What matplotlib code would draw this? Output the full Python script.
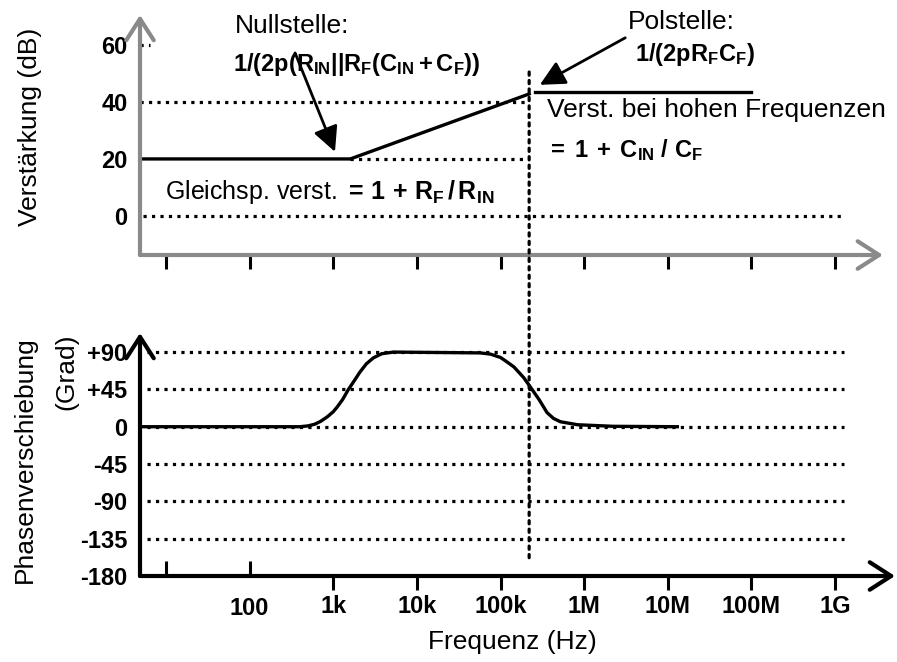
import matplotlib.pyplot as plt
from matplotlib.patches import ConnectionPatch

plt.rcParams['font.family'] = ['Liberation Sans', 'DejaVu Sans']
plt.rcParams['mathtext.fontset'] = 'custom'
plt.rcParams['mathtext.rm'] = 'Liberation Sans'
plt.rcParams['mathtext.bf'] = 'Liberation Sans:bold'
plt.rcParams['mathtext.it'] = 'Liberation Sans:italic'

# frequency axis (Hz)
f_min, f_max = 4.9, 5.2e9
decade_ticks = [1e3, 1e4, 1e5, 1e6, 1e7, 1e8, 1e9]
decade_labels = ['1k', '10k', '100k', '1M', '10M', '100M', '1G']
low_ticks = [1e1, 1e2]
low_labels = ['', '100']

# gain (dB), asymptotic
zero_freq = 1.6e3
pole_freq = 2.2e5
gain_freq = [4.9, 1.6e3, 2.2e5]
gain_db = [20, 20, 42.8]
hf_freq = [2.6e5, 1.0e8]
hf_db = [43.5, 43.5]
gain_ticks = [0, 20, 40, 60]

# phase (degrees)
phase_freq = [4.9, 400, 500, 600, 708, 851, 1000, 1120, 1300, 1510, 1800,
              2090, 2500, 3020, 3800, 5250,
              57500, 76000, 1.0e5, 1.2e5, 1.45e5, 1.9e5, 2.4e5, 2.9e5,
              3.6e5, 4.3e5, 5.2e5, 8.3e5, 2.2e6, 1.3e7]
phase_deg = [0, 0, 1, 3, 6.5, 12, 18, 24, 33, 44.5, 56,
             66, 76, 83, 88, 90,
             89, 87.5, 83.5, 78, 72, 59, 44.5, 32.5,
             17, 10, 6, 2.4, 0.5, 0]
phase_ticks = [90, 45, 0, -45, -90, -135, -180]
phase_labels = ['+90', '+45', '0', '-45', '-90', '-135', '-180']

W, H = 897, 662
fig = plt.figure(figsize=(W / 100, H / 100), dpi=100)
ax1 = fig.add_axes([140 / W, 1 - 255 / H, 755 / W, 240 / H])
ax2 = fig.add_axes([140 / W, 1 - 576 / H, 755 / W, 243 / H])

dot = dict(color='black', linestyle=':', linewidth=2.3, zorder=1)
gray = '#8a8a8a'

for ax in (ax1, ax2):
    ax.set_xscale('log')
    ax.set_xlim(f_min, f_max)
    for s in ax.spines.values():
        s.set_visible(False)
    ax.minorticks_off()

# ---- gain panel ----
ax1.set_ylim(-13.7, 70.5)
ax1.plot([f_min, 6.5], [60, 60], **dot)
ax1.plot([f_min, pole_freq], [40, 40], **dot)
ax1.plot([zero_freq, pole_freq], [20, 20], **dot)
ax1.plot([5.3, 1.23e9], [0, 0], **dot)
ax1.plot(gain_freq, gain_db, color='black', lw=2.4, zorder=3)
ax1.plot(hf_freq, hf_db, color='black', lw=2.4, zorder=3)

ax1.set_xticks(low_ticks + decade_ticks)
ax1.set_xticklabels([])
ax1.tick_params(axis='x', direction='out', length=10, width=2.2, color='black')
ax1.set_yticks(gain_ticks)
ax1.set_yticklabels([str(t) for t in gain_ticks], fontsize=17, fontweight='bold')
ax1.tick_params(axis='y', length=0, pad=9)

ax1.annotate('', xy=(0.984, 0), xytext=(0, 0), xycoords='axes fraction',
             arrowprops=dict(arrowstyle='->,head_length=0.7,head_width=0.45',
                             color=gray, lw=3, mutation_scale=22, shrinkA=0, shrinkB=0))
ax1.annotate('', xy=(0, 1), xytext=(0, 0), xycoords='axes fraction',
             arrowprops=dict(arrowstyle='->,head_length=0.7,head_width=0.45',
                             color=gray, lw=3, mutation_scale=22, shrinkA=0, shrinkB=0))

ax1.text(66, 66.7, 'Nullstelle:', fontsize=19, va='center', ha='left')
ax1.text(63, 53, r'$\mathbf{1/(2p(R_{IN}||R_{F}(C_{IN}+C_{F}))}$', fontsize=17,
         va='center', ha='left')
ax1.annotate('', xy=(1.05e3, 22.5), xytext=(3.5e2, 57.2),
             arrowprops=dict(arrowstyle='-|>,head_length=0.8,head_width=0.4',
                             color='black', lw=2, mutation_scale=19,
                             shrinkA=0, shrinkB=0))
ax1.text(3.3e6, 68, 'Polstelle:', fontsize=19, va='center', ha='left')
ax1.text(4.1e6, 56.5, r'$\mathbf{1/(2pR_{F}C_{F})}$', fontsize=17,
         va='center', ha='left')
ax1.annotate('', xy=(2.95e5, 46), xytext=(3.1e6, 62.5),
             arrowprops=dict(arrowstyle='-|>,head_length=0.8,head_width=0.4',
                             color='black', lw=2, mutation_scale=19,
                             shrinkA=0, shrinkB=0))
ax1.text(3.6e5, 37.2, 'Verst. bei hohen Frequenzen', fontsize=19,
         va='center', ha='left')
ax1.text(3.6e5, 23.2, r'$\mathbf{=\;1\;+\;C_{IN}\ /\ C_{F}}$', fontsize=17,
         va='center', ha='left')
ax1.text(9.8, 8.4, r'Gleichsp. verst. $\mathbf{=\,1\,+\,R_{F}\,/\,R_{IN}}$',
         fontsize=18, va='center', ha='left')

# ---- phase panel ----
ax2.set_ylim(-180, 113)
for p in phase_ticks[:-1]:
    ax2.plot([5.9, 1.26e9], [p, p], **dot)
ax2.plot(phase_freq, phase_deg, color='black', lw=2.4, zorder=3,
         solid_joinstyle='round')

ax2.set_xticks(decade_ticks)
ax2.set_xticklabels(decade_labels, fontsize=17, fontweight='bold')
ax2.tick_params(axis='x', which='major', direction='out', length=10, width=2.2, pad=4)
ax2.set_xticks(low_ticks, minor=True)
ax2.set_xticklabels(low_labels, minor=True, fontsize=17, fontweight='bold')
ax2.tick_params(axis='x', which='minor', direction='in', length=11, width=2.2, pad=15)
ax2.set_yticks(phase_ticks)
ax2.set_yticklabels(phase_labels, fontsize=17, fontweight='bold')
ax2.tick_params(axis='y', length=0, pad=9)

ax2.annotate('', xy=(1, 0), xytext=(0, 0), xycoords='axes fraction',
             arrowprops=dict(arrowstyle='->,head_length=0.7,head_width=0.45',
                             color='black', lw=3, mutation_scale=22, shrinkA=0, shrinkB=0))
ax2.annotate('', xy=(0, 1), xytext=(0, 0), xycoords='axes fraction',
             arrowprops=dict(arrowstyle='->,head_length=0.7,head_width=0.45',
                             color='black', lw=3, mutation_scale=22, shrinkA=0, shrinkB=0))

# pole marker running through both panels
con = ConnectionPatch(xyA=(pole_freq, 50.5), coordsA=ax1.transData,
                      xyB=(pole_freq, -160), coordsB=ax2.transData,
                      color='black', linestyle=':', linewidth=2.3)
fig.add_artist(con)

fig.text(30 / W, 1 - 127 / H, 'Verstärkung (dB)', rotation=90, fontsize=19,
         ha='center', va='center')
fig.text(25 / W, 1 - 460 / H, 'Phasenverschiebung', rotation=90, fontsize=19,
         ha='center', va='center')
fig.text(66 / W, 1 - 372 / H, '(Grad)', rotation=90, fontsize=19,
         ha='center', va='center')
fig.text(512 / W, 1 - 642 / H, 'Frequenz (Hz)', fontsize=19,
         ha='center', va='center')

fig.savefig('out.png', dpi=100)
